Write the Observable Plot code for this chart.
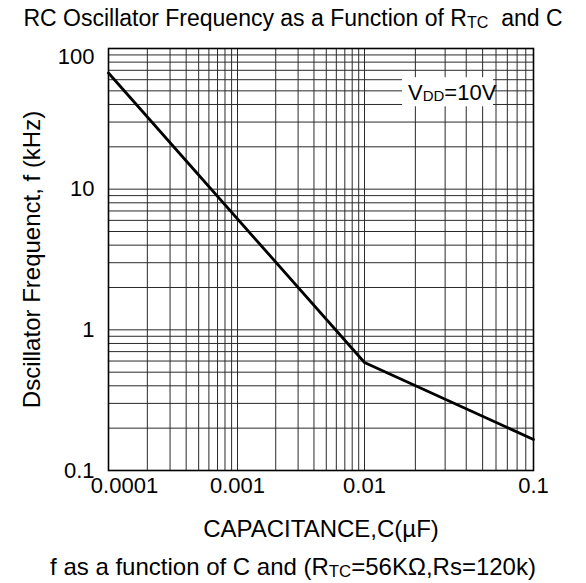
<!DOCTYPE html>
<html>
<head>
<meta charset="utf-8">
<script src="https://cdn.jsdelivr.net/npm/d3@7"></script>
<script src="https://cdn.jsdelivr.net/npm/@observablehq/plot@0.6"></script>
<style>
  html, body { margin: 0; padding: 0; background: #fff; }
  #wrap { width: 586px; height: 583px; font-family: "Liberation Sans", Arial, sans-serif; color: #000; }
  #title { height: 36px; line-height: 36px; text-align: center; font-size: 23px; white-space: nowrap; }
  #caption { height: 37px; line-height: 42px; text-align: center; font-size: 24px; white-space: nowrap; }
  .sub { font-size: 0.7em; vertical-align: -0.12em; }
  #chart svg { display: block; }
</style>
</head>
<body>
<div id="wrap">
  <div id="title">RC Oscillator Frequency as a Function of R<span class="sub">TC</span>&nbsp; and C</div>
  <div id="chart"></div>
  <div id="caption">f as a function of C and (R<span class="sub">TC</span>=56KΩ,Rs=120k)</div>
</div>
<script>
// ---- data ----
const capacitance = [0.0001, 0.01, 0.1];          // µF
const frequency   = [67, 0.586, 0.166];           // kHz
const xTickValues = [0.0001, 0.001, 0.01, 0.1];
const xTickLabels = ["0.0001", "0.001", "0.01", "0.1"];
const yTickValues = [0.1, 1, 10, 100];
const yTickLabels = ["0.1", "1", "10", "100"];
const xTitle = "CAPACITANCE,C(µF)";
const yTitle = "Dscillator Frequenct, f (kHz)";
const noteText = "VDD=10V";

const data = capacitance.map((c, i) => ({c, f: frequency[i]}));

// log grid (1..9 per decade)
const xGrid = [];
for (const d of xTickValues.slice(0, -1)) for (let k = 1; k <= 9; k++) xGrid.push(k * d);
xGrid.push(xTickValues[xTickValues.length - 1]);
const yGrid = [];
for (const d of yTickValues.slice(0, -1)) for (let k = 1; k <= 9; k++) yGrid.push(k * d);
yGrid.push(yTickValues[yTickValues.length - 1]);

const W = 586, H = 510;
const mL = 108, mR = 53, mT = 12, mB = 76;

const chart = Plot.plot({
  width: W,
  height: H,
  marginLeft: mL, marginRight: mR, marginTop: mT, marginBottom: mB,
  style: {fontFamily: '"Liberation Sans", Arial, sans-serif', background: "#fff", color: "#000"},
  x: {type: "log", domain: xTickValues, range: [108, 237, 364, 533], axis: null},
  y: {type: "log", domain: [0.1, 100], axis: null},
  marks: [
    Plot.ruleX(xGrid, {x: d => d, stroke: "#2a2a2a", strokeWidth: 1}),
    Plot.ruleY(yGrid, {y: d => d, stroke: "#2a2a2a", strokeWidth: 1}),
    Plot.rect([0], {x1: 0.0168, x2: 0.058, y1: 38.5, y2: 62, fill: "white"}),
    Plot.text([noteText], {x: 0.033, y: 48.6, text: d => d, fontSize: 22, textAnchor: "middle"}),
    Plot.line(data, {x: "c", y: "f", stroke: "black", strokeWidth: 2.8}),
    Plot.frame({stroke: "black", strokeWidth: 1.6}),
    // x tick labels
    Plot.text(xTickValues.slice(0, 1), {x: d => d, text: (d, i) => xTickLabels[i], frameAnchor: "bottom", dy: 22, dx: 16, fontSize: 22}),
    Plot.text(xTickValues.slice(1), {x: d => d, text: (d, i) => xTickLabels[i + 1], frameAnchor: "bottom", dy: 22, fontSize: 22}),
    // y tick labels
    Plot.text(yTickValues.slice(0, 3), {y: d => d, text: (d, i) => yTickLabels[i], frameAnchor: "left", textAnchor: "end", dx: -14, fontSize: 22}),
    Plot.text(yTickValues.slice(3), {y: d => d, text: (d, i) => yTickLabels[i + 3], frameAnchor: "left", textAnchor: "end", dx: -14, dy: 8, fontSize: 22}),
    // axis titles
    Plot.text([xTitle], {text: d => d, frameAnchor: "bottom", textAnchor: "middle", dy: 66, fontSize: 24}),
    Plot.text([yTitle], {text: d => d, frameAnchor: "left", textAnchor: "middle", rotate: -90, dx: -76, fontSize: 24})
  ]
});

// subscript for V_DD
d3.select(chart).selectAll("text").filter(function() { return this.textContent === noteText; })
  .each(function() {
    const t = d3.select(this);
    t.text(null);
    t.append("tspan").text("V");
    t.append("tspan").attr("font-size", 15).attr("dy", 1).text("DD");
    t.append("tspan").attr("dy", -1).text("=10V");
  });

document.getElementById("chart").appendChild(chart);
</script>
</body>
</html>
